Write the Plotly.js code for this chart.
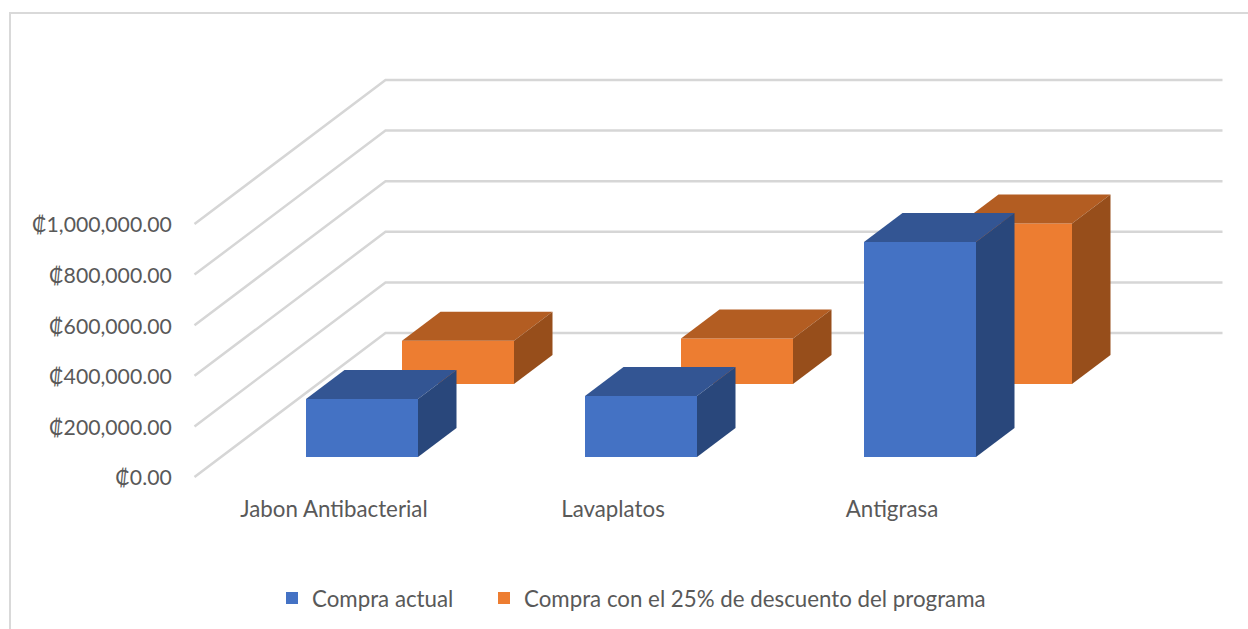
<!DOCTYPE html>
<html>
<head>
<meta charset="utf-8">
<script src="https://cdn.plot.ly/plotly-3.0.1.min.js"></script>
<style>html,body{margin:0;padding:0;background:#fff;overflow:hidden}#chart{width:1248px;height:629px}</style>
</head>
<body>
<div id="chart"></div>
<script>
// Data
const categories = ["Jabon Antibacterial", "Lavaplatos", "Antigrasa"];
const compraActual = [229000, 241000, 850000];
const compraDescuento = [171000, 180000, 634000];
const seriesNames = ["Compra actual", "Compra con el 25% de descuento del programa"];
const yTickVals = [0, 200000, 400000, 600000, 800000, 1000000];
const yTickText = ["₡0.00", "₡200,000.00", "₡400,000.00", "₡600,000.00", "₡800,000.00", "₡1,000,000.00"];

// Oblique-view scale (pixels per axis unit) and plot frame
const W = 1248, H = 629;
const pxPerCat = 279, pxPerVal = 50.6 / 200000;
const x0Px = 194.5, y0Px = 477;
const frame = {l: 188, r: 1230, t: 74, b: 480};
const dxU = px => px / pxPerCat;
const dvU = px => px / pxPerVal;

const wallDx = dxU(191), wallDv = dvU(144);
const barW = dxU(112);
const boxDx = dxU(38.5), boxDv = dvU(29);
const blue = {front: "#4472C4", top: "#335593", side: "#29477B", dx: dxU(28), dv: dvU(20)};
const orange = {front: "#ED7D31", top: "#B35D22", side: "#974E1B", dx: dxU(124), dv: dvU(93)};

function faces(values, st) {
  const out = [];
  values.forEach((v, i) => {
    const xl = i + 0.5 + st.dx - barW / 2, xr = xl + barW;
    const b = st.dv, t = st.dv + v;
    out.push({type: "scatter", mode: "lines", line: {width: 0}, fill: "toself", fillcolor: st.top,
      x: [xl, xr, xr + boxDx, xl + boxDx, xl], y: [t, t, t + boxDv, t + boxDv, t],
      hoverinfo: "skip", showlegend: false});
    out.push({type: "scatter", mode: "lines", line: {width: 0}, fill: "toself", fillcolor: st.side,
      x: [xr, xr + boxDx, xr + boxDx, xr, xr], y: [b, b + boxDv, t + boxDv, t, b],
      hoverinfo: "skip", showlegend: false});
  });
  return out;
}
function frontBars(values, st, name, legendId) {
  return {type: "bar", name: name, legend: legendId,
    x: values.map((v, i) => i + 0.5 + st.dx), y: values, base: values.map(() => st.dv),
    width: barW, marker: {color: st.front, line: {width: 0}},
    hovertemplate: name + "<br>%{y:,.2f}<extra></extra>"};
}

const traces = [
  frontBars(compraDescuento, orange, seriesNames[1], "legend2"),
  frontBars(compraActual, blue, seriesNames[0], "legend"),
  ...faces(compraDescuento, orange),
  ...faces(compraActual, blue)
];

// Floor/back-wall gridlines, drawn under the bars
const xEnd = categories.length + wallDx;
const gridShapes = yTickVals.map(v => ({
  type: "path", layer: "below", xref: "x", yref: "y",
  path: `M0,${v} L${wallDx},${v + wallDv} L${xEnd},${v + wallDv}`,
  line: {color: "#D6D6D6", width: 2.5}, fillcolor: "rgba(0,0,0,0)"
}));

const fw = frame.r - frame.l, fh = frame.b - frame.t;
const px = p => (p - frame.l) / fw, py = p => (frame.b - p) / fh;
const border = {type: "path", xref: "paper", yref: "paper", layer: "below",
  path: `M${px(10)},${py(H + 2)} L${px(10)},${py(13)} L${px(W + 2)},${py(13)}`,
  line: {color: "#D9D9D9", width: 2}, fillcolor: "rgba(0,0,0,0)"};

const family = "Lato, 'Open Sans', sans-serif";
const tickFont = {family: family, size: 21.2, color: "#595959"};
const labelFont = {family: family, size: 22.3, color: "#595959"};
const legendBase = {orientation: "h", xanchor: "left", y: py(598), yanchor: "middle",
  font: labelFont, bgcolor: "rgba(0,0,0,0)", itemclick: false, itemdoubleclick: false};
const layout = {
  width: W, height: H, autosize: false,
  margin: {l: frame.l, r: W - frame.r, t: frame.t, b: H - frame.b, pad: 0, autoexpand: false},
  paper_bgcolor: "#fff", plot_bgcolor: "rgba(0,0,0,0)",
  font: labelFont, barmode: "overlay", showlegend: true,
  xaxis: {range: [(frame.l - x0Px) / pxPerCat, (frame.r - x0Px) / pxPerCat], tickmode: "array",
    tickvals: categories.map((c, i) => i + 0.5), ticktext: categories,
    showgrid: false, zeroline: false, showline: false, ticks: "outside", ticklen: 9,
    tickcolor: "rgba(0,0,0,0)", tickfont: labelFont, fixedrange: true},
  yaxis: {range: [(y0Px - frame.b) / pxPerVal, (y0Px - frame.t) / pxPerVal], tickmode: "array",
    tickvals: yTickVals, ticktext: yTickText, ticklabelshift: 1,
    showgrid: false, zeroline: false, showline: false, ticks: "outside", ticklen: 11,
    tickcolor: "rgba(0,0,0,0)", tickfont: tickFont, fixedrange: true},
  legend: Object.assign({x: px(272)}, legendBase),
  legend2: Object.assign({x: px(484)}, legendBase),
  shapes: [border, ...gridShapes]
};
Plotly.newPlot("chart", traces, layout, {displayModeBar: false, responsive: false});
</script>
</body>
</html>
